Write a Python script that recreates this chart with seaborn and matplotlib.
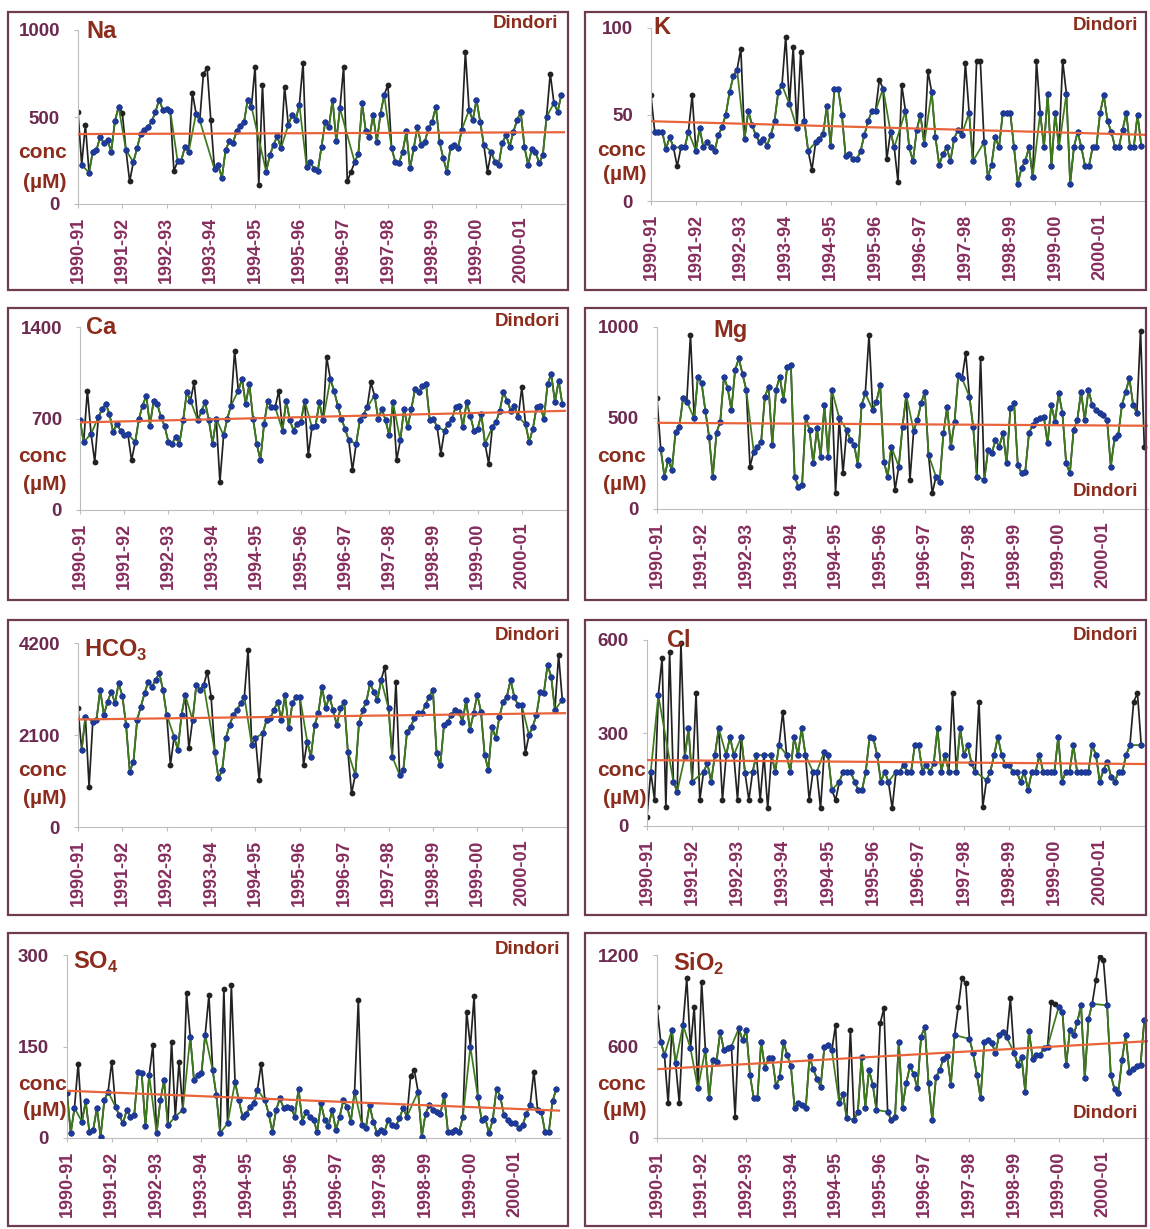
import numpy as np
import pandas as pd
import matplotlib
matplotlib.use("Agg")
import matplotlib.pyplot as plt
import seaborn as sns
from matplotlib.patches import Rectangle

nan = float("nan")

# Hydrological years on the time axis (one tick per year, monthly samples)
years = ["1990-91", "1991-92", "1992-93", "1993-94", "1994-95", "1995-96",
         "1996-97", "1997-98", "1998-99", "1999-00", "2000-01"]
station = "Dindori"
unit_top = "conc"
unit_bottom = "(µM)"

# ---- Na (µM): full record and the overlapping second record
na_obs = [530, 225, 455, 180, 300, 310, 385, 350, 365, 300, 475, 560,
          525, 310, 130, 240, 320, 405, 425, 445, 475, 530, 600, 540,
          545, 535, 190, 245, 250, 330, 300, 640, 520, 480, 750, 780,
          480, 200, 225, 150, 310, 360, 350, 420, 450, 470, 600, 560,
          790, 110, 684, 186, 280, 340, 390, 320, 675, 454, 511, 483,
          570, 810, 210, 240, 200, 190, 330, 470, 440, 600, 360, 550,
          790, 130, 186, 240, 290, 580, 420, 387, 511, 358, 520, 627,
          684, 320, 243, 234, 300, 417, 205, 320, 445, 340, 358, 435,
          473, 560, 358, 263, 186, 330, 339, 320, 425, 875, 540, 480,
          600, 473, 339, 186, 300, 243, 224, 350, 397, 330, 415, 480,
          531, 330, 224, 315, 301, 234, 282, 500, 750, 580, 530, 627]
na_alt = [nan, 225, nan, 180, 300, 310, 385, 350, 365, 300, 475, 560,
          nan, 310, nan, 240, 320, 405, 425, 445, 475, 530, 600, 540,
          545, 535, nan, 245, 250, 330, 300, nan, 520, 480, nan, nan,
          nan, 200, 225, 150, 310, 360, 350, 420, 450, 470, 600, 560,
          nan, nan, nan, 186, 280, 340, 390, 320, nan, 454, 511, 483,
          570, nan, 210, 240, 200, 190, 330, 470, 440, 600, 360, 550,
          nan, nan, nan, 240, 290, 580, 420, 387, 511, 358, 520, 627,
          nan, 320, 243, 234, 300, 417, 205, 320, 445, 340, 358, 435,
          473, 560, 358, 263, 186, 330, 339, 320, 425, nan, 540, 480,
          600, 473, 339, nan, 300, 243, 224, 350, 397, 330, 415, 480,
          531, 330, 224, 315, 301, 234, 282, 500, nan, 580, 530, 627]
na_ticks = [0, 500, 1000]

# ---- K (µM)
k_obs = [61, 40, 40, 40, 30, 37, 31, 20, 31, 31, 40, 61,
         29, 42, 31, 34, 31, 29, 38, 43, 50, 63, 72, 76,
         88, 36, 52, 44, 38, 34, 36, 32, 38, 46, 63, 67,
         95, 56, 89, 42, 86, 46, 29, 18, 34, 36, 39, 55,
         32, 65, 65, 50, 26, 27, 24, 24, 29, 38, 46, 52,
         52, 70, 65, 24, 40, 31, 11, 67, 52, 31, 23, 41,
         50, 33, 75, 63, 37, 21, 27, 31, 23, 36, 41, 38,
         80, 51, 23, 81, 81, 34, 14, 21, 37, 31, 51, 51,
         51, 31, 10, 19, 23, 31, 14, 81, 51, 31, 62, 20,
         51, 31, 81, 62, 10, 31, 40, 31, 20, 20, 31, 31,
         51, 61, 46, 40, 31, 31, 41, 51, 31, 31, 50, 32]
k_alt = [nan, 40, 40, 40, 30, 37, 31, nan, 31, 31, 40, nan,
         29, 42, 31, 34, 31, 29, 38, 43, 50, 63, 72, 76,
         nan, 36, 52, 44, 38, 34, 36, 32, 38, 46, 63, 67,
         nan, 56, nan, 42, nan, 46, 29, nan, 34, 36, 39, 55,
         32, 65, 65, 50, 26, 27, 24, 24, 29, 38, 46, 52,
         52, nan, 65, nan, 40, 31, nan, nan, 52, 31, 23, 41,
         50, 33, nan, 63, 37, 21, 27, 31, 23, 36, 41, 38,
         nan, 51, 23, nan, nan, 34, 14, 21, 37, 31, 51, 51,
         51, 31, 10, 19, 23, 31, 14, nan, 51, 31, 62, 20,
         51, 31, nan, 62, 10, 31, 40, 31, 20, 20, 31, 31,
         51, 61, 46, 40, 31, 31, 41, 51, 31, 31, 50, 32]
k_ticks = [0, 50, 100]

# ---- Ca (µM)
ca_obs = [685, 520, 913, 583, 368, 710, 773, 811, 735, 596, 659, 608,
          570, 583, 380, 520, 697, 799, 875, 646, 837, 810, 710, 640,
          520, 507, 560, 507, 685, 900, 837, 976, 685, 760, 824, 685,
          507, 697, 216, 570, 697, 798, 1217, 913, 1002, 811, 964, 700,
          507, 380, 659, 837, 786, 786, 913, 608, 837, 685, 608, 659,
          672, 837, 418, 634, 646, 824, 685, 1167, 1002, 913, 799, 697,
          620, 532, 304, 507, 685, 730, 786, 976, 875, 697, 773, 685,
          570, 824, 380, 532, 773, 634, 773, 926, 900, 951, 964, 685,
          697, 634, 431, 608, 659, 697, 786, 799, 634, 824, 722, 608,
          621, 735, 507, 355, 634, 672, 760, 900, 837, 760, 799, 710,
          938, 659, 520, 621, 786, 799, 697, 964, 1040, 824, 989, 811]
ca_alt = [685, 520, nan, 583, nan, 710, 773, 811, 735, 596, 659, 608,
          570, 583, nan, 520, 697, 799, 875, 646, 837, 810, 710, 640,
          520, 507, 560, 507, 685, 900, 837, nan, 685, 760, 824, 685,
          507, 697, nan, 570, 697, 798, nan, 913, 1002, 811, 964, 700,
          507, 380, 659, 837, 786, 786, nan, 608, 837, 685, 608, 659,
          672, 837, nan, 634, 646, 824, 685, nan, 1002, 913, 799, 697,
          620, 532, nan, 507, 685, 730, 786, nan, 875, 697, 773, 685,
          570, 824, nan, 532, 773, 634, 773, 926, 900, 951, 964, 685,
          697, 634, nan, 608, 659, 697, 786, 799, 634, 824, 722, 608,
          621, 735, 507, nan, 634, 672, 760, 900, 837, 760, 799, 710,
          nan, 659, 520, 621, 786, 799, 697, 964, 1040, 824, 989, 811]
ca_ticks = [0, 700, 1400]

# ---- Mg (µM)
mg_obs = [608, 330, 178, 269, 214, 425, 452, 608, 590, 956, 498, 727,
          691, 540, 397, 178, 420, 480, 727, 663, 544, 764, 828, 740,
          654, 233, 315, 340, 370, 617, 672, 352, 654, 727, 600, 782,
          791, 178, 123, 132, 507, 434, 252, 443, 288, 572, 288, 654,
          86, 500, 196, 434, 380, 352, 242, 572, 636, 956, 544, 590,
          681, 260, 178, 343, 104, 233, 452, 626, 159, 430, 489, 580,
          645, 297, 86, 178, 150, 416, 562, 343, 480, 736, 718, 855,
          617, 452, 178, 828, 160, 324, 306, 379, 343, 416, 251, 553,
          580, 242, 196, 205, 416, 462, 489, 498, 507, 361, 572, 480,
          636, 526, 251, 196, 434, 489, 645, 489, 654, 572, 544, 526,
          516, 489, 233, 388, 407, 572, 645, 718, 572, 526, 980, 343]
mg_alt = [nan, 330, 178, 269, 214, 425, 452, 608, 590, nan, 498, 727,
          691, 540, 397, 178, 420, 480, 727, 663, 544, 764, 828, 740,
          654, nan, 315, 340, 370, 617, 672, 352, 654, 727, 600, 782,
          791, 178, 123, 132, 507, 434, 252, 443, 288, 572, 288, 654,
          nan, 500, nan, 434, 380, 352, 242, 572, 636, nan, 544, 590,
          681, 260, 178, 343, nan, 233, 452, 626, nan, 430, 489, 580,
          645, 297, nan, 178, 150, 416, 562, 343, 480, 736, 718, nan,
          617, 452, 178, nan, 160, 324, 306, 379, 343, 416, 251, 553,
          580, 242, 196, 205, 416, 462, 489, 498, 507, 361, 572, 480,
          636, 526, 251, 196, 434, 489, 645, 489, 654, 572, 544, 526,
          516, 489, 233, 388, 407, 572, 645, 718, 572, 526, nan, nan]
mg_ticks = [0, 500, 1000]

# ---- HCO3 (µM)
hco3_obs = [2709, 1758, 2519, 921, 2405, 2450, 3128, 2560, 2860, 3090, 2830, 3280,
            2990, 2330, 1263, 1492, 2443, 2750, 3050, 3318, 3200, 3356, 3508, 3128,
            2557, 1415, 2062, 1758, 2557, 3014, 1796, 2443, 3242, 3128, 3242, 3546,
            2976, 1720, 1111, 1301, 2030, 2329, 2557, 2671, 2824, 2976, 4041, 1872,
            2030, 1073, 2140, 2443, 2480, 2671, 2861, 2443, 3014, 2253, 2824, 2976,
            2976, 1415, 1950, 1606, 2329, 2595, 3204, 2710, 2976, 2671, 2329, 2710,
            2861, 1720, 769, 1187, 2367, 2671, 2861, 3280, 3090, 2900, 3356, 3660,
            2709, 1606, 3318, 1187, 1301, 2177, 2291, 2481, 2595, 2595, 2785, 2976,
            3128, 1682, 1415, 2329, 2405, 2557, 2671, 2633, 2405, 2899, 2215, 2595,
            3014, 2633, 1644, 1301, 2291, 2025, 2519, 2861, 2976, 3356, 2976, 2785,
            2785, 1682, 2100, 2291, 2557, 3090, 3052, 3698, 3432, 2671, 3927, 2900]
hco3_alt = [nan, 1758, 2519, nan, 2405, 2450, 3128, 2560, 2860, 3090, 2830, 3280,
            2990, 2330, 1263, 1492, 2443, 2750, 3050, 3318, 3200, 3356, 3508, 3128,
            2557, nan, 2062, 1758, 2557, 3014, nan, 2443, 3242, 3128, 3242, nan,
            nan, 1720, 1111, 1301, 2030, 2329, 2557, 2671, 2824, 2976, nan, 1872,
            2030, nan, 2140, 2443, 2480, 2671, 2861, 2443, 3014, 2253, 2824, 2976,
            2976, nan, 1950, 1606, 2329, 2595, 3204, 2710, 2976, 2671, 2329, 2710,
            2861, 1720, nan, 1187, 2367, 2671, 2861, 3280, 3090, 2900, 3356, nan,
            2709, 1606, nan, 1187, 1301, 2177, 2291, 2481, 2595, 2595, 2785, 2976,
            3128, 1682, 1415, 2329, 2405, 2557, 2671, 2633, 2405, 2899, 2215, 2595,
            3014, 2633, 1644, 1301, 2291, 2025, 2519, 2861, 2976, 3356, 2976, 2785,
            2785, nan, 2100, 2291, 2557, 3090, 3052, 3698, 3432, 2671, nan, 2900]
hco3_ticks = [0, 2100, 4200]

# ---- Cl (µM)
cl_obs = [30, 175, 84, 422, 541, 62, 562, 143, 111, 589, 222, 315,
          143, 428, 84, 175, 202, 143, 229, 315, 84, 229, 288, 229,
          84, 288, 170, 84, 175, 229, 84, 229, 57, 229, 175, 261,
          369, 229, 175, 288, 229, 315, 229, 84, 175, 175, 57, 240,
          229, 116, 84, 143, 175, 175, 175, 143, 116, 116, 175, 288,
          283, 229, 143, 175, 143, 57, 175, 175, 197, 175, 175, 261,
          261, 175, 197, 175, 202, 315, 175, 229, 175, 428, 175, 315,
          229, 261, 202, 175, 401, 62, 148, 175, 229, 288, 229, 197,
          197, 175, 175, 143, 175, 116, 175, 175, 229, 175, 175, 175,
          175, 288, 143, 175, 175, 261, 175, 175, 175, 175, 261, 229,
          143, 181, 207, 159, 143, 175, 175, 229, 261, 401, 428, 261]
cl_alt = [nan, 175, nan, 422, nan, nan, nan, 143, 111, nan, 222, 315,
          143, nan, nan, 175, 202, 143, 229, 315, nan, 229, 288, 229,
          nan, 288, 170, nan, 175, 229, nan, 229, nan, 229, 175, 261,
          nan, 229, 175, 288, 229, 315, 229, nan, 175, 175, nan, 240,
          229, 116, nan, 143, 175, 175, 175, 143, 116, 116, 175, 288,
          283, 229, 143, 175, 143, nan, 175, 175, 197, 175, 175, 261,
          261, 175, 197, 175, 202, 315, 175, 229, 175, nan, 175, 315,
          229, 261, 202, 175, nan, nan, 148, 175, 229, 288, 229, 197,
          197, 175, 175, 143, 175, 116, 175, 175, 229, 175, 175, 175,
          175, 288, 143, 175, 175, 261, 175, 175, 175, 175, 261, 229,
          143, 181, 207, 159, 143, 175, 175, 229, 261, nan, nan, 261]
cl_ticks = [0, 300, 600]

# ---- SO4 (µM)
so4_obs = [73, 8, 49, 122, 27, 60, 10, 13, 49, 2, 62, 76,
           125, 51, 37, 24, 46, 35, 37, 109, 106, 19, 103, 152,
           8, 62, 95, 21, 158, 35, 125, 46, 237, 166, 95, 103,
           106, 169, 234, 111, 70, 8, 245, 24, 251, 92, 62, 35,
           40, 51, 57, 79, 122, 62, 40, 10, 46, 65, 49, 51,
           49, 35, 81, 27, 43, 35, 30, 10, 57, 30, 19, 46,
           13, 35, 62, 51, 27, 76, 226, 21, 16, 54, 27, 8,
           13, 10, 30, 21, 19, 32, 49, 35, 101, 111, 76, 2,
           40, 54, 46, 43, 40, 70, 10, 10, 13, 10, 35, 207,
           150, 232, 68, 30, 32, 8, 30, 81, 68, 38, 30, 24,
           24, 16, 21, 40, 54, 109, 46, 43, 10, 10, 60, 81]
so4_alt = [73, 8, 49, nan, 27, 60, 10, 13, 49, 2, 62, 76,
           nan, 51, 37, 24, 46, 35, 37, 109, 106, 19, 103, nan,
           8, 62, 95, 21, nan, 35, nan, 46, nan, 166, 95, 103,
           106, 169, nan, 111, 70, 8, nan, 24, nan, 92, 62, 35,
           40, 51, 57, 79, nan, 62, 40, 10, 46, 65, 49, 51,
           49, 35, 81, 27, 43, 35, 30, 10, 57, 30, 19, 46,
           13, 35, 62, 51, 27, 76, nan, 21, 16, 54, 27, 8,
           13, 10, 30, 21, 19, 32, 49, 35, nan, nan, 76, 2,
           40, 54, 46, 43, 40, 70, 10, 10, 13, 10, 35, nan,
           150, nan, 68, 30, 32, 8, 30, 81, 68, 38, 30, 24,
           24, 16, 21, 40, 54, nan, 46, 43, 10, 10, 60, 81]
so4_ticks = [0, 150, 300]

# ---- SiO2 (µM)
sio2_obs = [861, 632, 544, 227, 708, 490, 227, 740, 1047, 588, 861, 326,
            1025, 580, 260, 510, 500, 697, 575, 590, 600, 140, 720, 640,
            710, 413, 260, 260, 632, 460, 523, 523, 340, 400, 632, 545,
            470, 195, 227, 216, 195, 535, 450, 390, 337, 600, 610, 575,
            741, 227, 290, 129, 708, 120, 172, 533, 200, 446, 350, 184,
            752, 850, 172, 118, 140, 632, 200, 360, 470, 420, 326, 664,
            730, 360, 118, 400, 446, 520, 540, 348, 675, 861, 1047, 1014,
            650, 555, 413, 260, 630, 640, 620, 560, 675, 697, 660, 916,
            560, 480, 530, 304, 700, 520, 545, 545, 590, 600, 894, 880,
            860, 828, 479, 708, 674, 760, 872, 391, 780, 880, 1036, 1190,
            1168, 870, 413, 320, 293, 510, 675, 435, 450, 470, 480, 774]
sio2_alt = [nan, 632, 544, nan, 708, 490, nan, 740, nan, 588, nan, 326,
            nan, 580, 260, 510, 500, 697, 575, 590, 600, nan, 720, 640,
            710, 413, 260, 260, 632, 460, 523, 523, 340, 400, 632, 545,
            470, 195, 227, 216, 195, 535, 450, 390, 337, 600, 610, 575,
            nan, 227, 290, 129, nan, 120, 172, 533, 200, 446, 350, 184,
            nan, nan, 172, 118, 140, 632, 200, 360, 470, 420, 326, 664,
            730, 360, 118, 400, 446, 520, 540, 348, 675, nan, nan, nan,
            650, 555, 413, 260, 630, 640, 620, 560, 675, 697, 660, nan,
            560, 480, 530, 304, 700, 520, 545, 545, 590, 600, nan, nan,
            860, 828, 479, 708, 674, 760, 872, 391, 780, 880, nan, nan,
            nan, 870, 413, 320, 293, 510, 675, 435, 450, 470, 480, 774]
sio2_ticks = [0, 600, 1200]

# ---------------------------------------------------------------- styling
sns.set_theme(style="white")
plt.rcParams["font.family"] = ["Liberation Sans", "DejaVu Sans"]
plt.rcParams["mathtext.fontset"] = "custom"
plt.rcParams["mathtext.rm"] = "Liberation Sans"
plt.rcParams["mathtext.bf"] = "Liberation Sans:bold"

BLACK = "#222222"
GREEN = "#3d7a1c"
BLUE = "#1d3a9a"
TREND = "#e8643a"
FRAME = "#6d3c50"
TICKLAB = "#6c2a50"
XLAB = "#862e5e"
NAMECOL = "#8c2c1c"
SPINE = "#bdbdbd"

W, H = 1150, 1229
fig = plt.figure(figsize=(W / 100, H / 100), dpi=100)

# name, observed, second record, y ticks
panels = [
    (r"Na", na_obs, na_alt, na_ticks),
    (r"K", k_obs, k_alt, k_ticks),
    (r"Ca", ca_obs, ca_alt, ca_ticks),
    (r"Mg", mg_obs, mg_alt, mg_ticks),
    (r"HCO$_\mathbf{3}$", hco3_obs, hco3_alt, hco3_ticks),
    (r"Cl", cl_obs, cl_alt, cl_ticks),
    (r"SO$_\mathbf{4}$", so4_obs, so4_alt, so4_ticks),
    (r"SiO$_\mathbf{2}$", sio2_obs, sio2_alt, sio2_ticks),
]

# pixel layout: axes box (left, top, right, bottom), frame box,
# name anchor (left, centre y), station anchor (right, centre y), unit label right edge
layout = [
    dict(ax=(78, 30, 565, 204), frame=(8, 12, 568, 290), name=(86, 31), tag=(558, 24), unit=(67, 153, 182)),
    dict(ax=(651, 28, 1145, 201), frame=(585, 12, 1146, 290), name=(653, 28), tag=(1138, 25), unit=(646, 150, 174)),
    dict(ax=(80, 327, 566, 510), frame=(8, 308, 568, 600), name=(86, 328), tag=(560, 322), unit=(67, 457, 485)),
    dict(ax=(657, 327, 1148, 509), frame=(585, 308, 1146, 600), name=(713, 331), tag=(1138, 491), unit=(646, 457, 485)),
    dict(ax=(78, 643, 566, 827), frame=(8, 620, 568, 915), name=(84, 650), tag=(560, 636), unit=(67, 771, 799)),
    dict(ax=(647, 640, 1145, 826), frame=(585, 620, 1146, 915), name=(667, 641), tag=(1138, 636), unit=(646, 771, 799)),
    dict(ax=(67, 955, 560, 1138), frame=(8, 933, 568, 1226), name=(73, 962), tag=(560, 950), unit=(67, 1084, 1111)),
    dict(ax=(657, 955, 1148, 1138), frame=(585, 933, 1146, 1226), name=(673, 964), tag=(1138, 1114), unit=(646, 1084, 1111)),
]


def fx(px):
    return px / W


def fy(py):
    return 1 - py / H


for (name, obs, alt, ticks), lay in zip(panels, layout):
    l, t, r, b = lay["ax"]
    ax = fig.add_axes([fx(l), fy(b), fx(r - l), (b - t) / H])
    ax.set_facecolor("none")

    months = np.arange(len(obs)) / 12.0
    df_obs = pd.DataFrame({"t": months, "v": obs})
    df_alt = pd.DataFrame({"t": months, "v": alt}).dropna()

    ax.set_xlim(0, 11)
    ax.set_ylim(ticks[0], ticks[-1])

    sns.lineplot(data=df_obs, x="t", y="v", ax=ax, color=BLACK, lw=1.25,
                 marker="o", markersize=4.2, markerfacecolor=BLACK,
                 markeredgecolor=BLACK, markeredgewidth=0, zorder=2)
    sns.lineplot(data=df_alt, x="t", y="v", ax=ax, color=GREEN, lw=1.25, zorder=3)
    sns.scatterplot(data=df_alt, x="t", y="v", ax=ax, color=BLUE, s=20,
                    linewidth=0, zorder=4)
    sns.regplot(x=months, y=np.asarray(obs, dtype=float), ax=ax, scatter=False,
                ci=None, truncate=False, color=TREND,
                line_kws=dict(lw=1.6, zorder=5))

    ax.set_xlim(0, 11)
    ax.set_ylim(ticks[0], ticks[-1])
    ax.set_xlabel("")
    ax.set_ylabel("")
    ax.set_xticks(range(len(years)))
    ax.set_xticklabels(years, rotation=90, fontsize=13, fontweight="bold", color=XLAB)
    ax.set_yticks(ticks)
    ax.set_yticklabels([str(v) for v in ticks], fontsize=13.5, fontweight="bold", color=TICKLAB)
    ax.tick_params(axis="x", length=3, width=0.8, color=SPINE, pad=6, direction="out", bottom=True)
    ax.tick_params(axis="y", length=3, width=0.8, color=SPINE, pad=10, direction="out", left=True)
    for side in ("top", "right"):
        ax.spines[side].set_visible(False)
    for side in ("left", "bottom"):
        ax.spines[side].set_color(SPINE)
        ax.spines[side].set_linewidth(0.8)

    # labels around the plot
    nx, ny = lay["name"]
    fig.text(fx(nx), fy(ny), name, fontsize=17, fontweight="bold", color=NAMECOL,
             ha="left", va="center")
    tx, ty = lay["tag"]
    fig.text(fx(tx), fy(ty), station, fontsize=13.5, fontweight="bold", color=NAMECOL,
             ha="right", va="center")
    ux, uy1, uy2 = lay["unit"]
    fig.text(fx(ux), fy(uy1), unit_top, fontsize=15, fontweight="bold", color=NAMECOL,
             ha="right", va="center")
    fig.text(fx(ux), fy(uy2), unit_bottom, fontsize=15, fontweight="bold", color=NAMECOL,
             ha="right", va="center")

    # panel border
    x0, y0, x1, y1 = lay["frame"]
    fig.patches.append(Rectangle((fx(x0), fy(y1)), fx(x1 - x0), (y1 - y0) / H,
                                 transform=fig.transFigure, fill=False,
                                 edgecolor=FRAME, lw=1.6, zorder=0))

fig.savefig("out.png", dpi=100, facecolor="white")
